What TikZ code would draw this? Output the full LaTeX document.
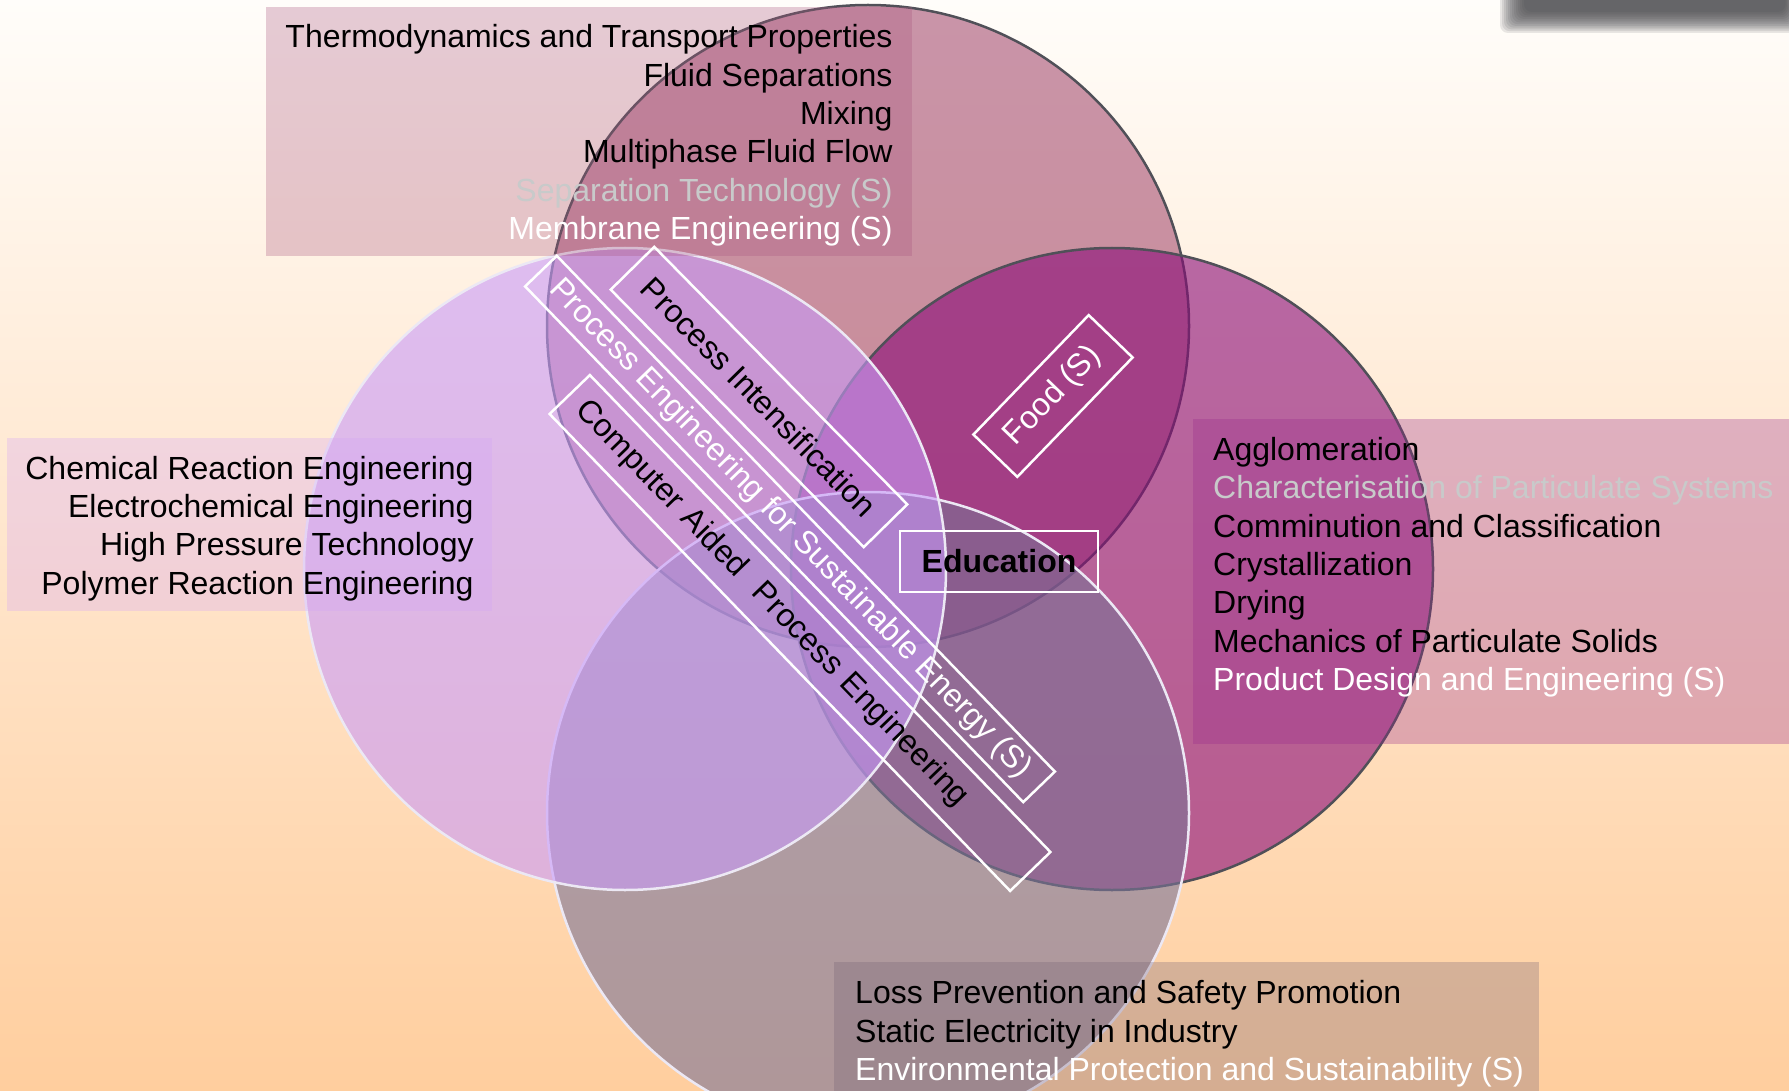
\documentclass[tikz,border=0pt]{standalone}
\usepackage{fontspec}
\setmainfont{Liberation Sans}
\usetikzlibrary{positioning}

\definecolor{bgTop}{RGB}{255,253,250}
\definecolor{bgBottom}{RGB}{255,206,158}
\definecolor{blurGray}{RGB}{70,70,76}
\definecolor{topFill}{RGB}{165,79,115}
\definecolor{rightFill}{RGB}{138,11,120}
\definecolor{bottomFill}{RGB}{122,115,150}
\definecolor{leftFill}{RGB}{200,154,248}
\definecolor{darkRim}{RGB}{80,80,88}
\definecolor{lightRim}{RGB}{236,232,244}
\definecolor{fluidFill}{RGB}{169,87,127}
\definecolor{reactionFill}{RGB}{212,165,247}
\definecolor{particleFill}{RGB}{152,41,140}
\definecolor{safetyFill}{RGB}{118,99,117}
\definecolor{paleText}{RGB}{200,202,202}

\tikzstyle{venn} = [circle, minimum size=642pt, inner sep=0pt, line width=2.5pt, fill opacity=0.6]
\tikzstyle{listbox} = [rectangle, inner sep=0pt, fill opacity=0.3, text opacity=1]
\tikzstyle{listtext} = [inner sep=0pt, font=\fontsize{32}{38.4}\selectfont]
\tikzstyle{tag} = [rectangle, draw=white, line width=2.5pt, inner sep=0pt, font=\fontsize{32}{38.4}\selectfont]

\begin{document}
\begin{tikzpicture}[x=1pt, y=-1pt]
			\shade [top color=bgTop, bottom color=bgBottom] (0,0) rectangle (1789,1091);
			\useasboundingbox (0,0) rectangle (1789,1091);
			% blurred bar in the corner
			\foreach \k in {0,...,12}
				\fill [blurGray, opacity=0.12, rounded corners=8pt] (1500+2*\k,-20) rectangle (1800-1.2*\k,33-1.75*\k);
			
			\node (topCircle) [venn, fill=topFill, draw=darkRim] at (868,326) {};
			\node (rightCircle) [venn, fill=rightFill, draw=darkRim] at (1112,569) {};
			\node (bottomCircle) [venn, fill=bottomFill, draw=lightRim] at (868,813) {};
			\node (leftCircle) [venn, fill=leftFill, draw=lightRim] at (625,569) {};
			
			\node (fluidBox) [listbox, fill=fluidFill, minimum width=646pt, minimum height=249pt] at (589,131.5) {};
			\node (fluidList) [listtext, align=right] at (589,135.5) {Thermodynamics and Transport Properties\\Fluid Separations\\Mixing\\Multiphase Fluid Flow\\{\color{paleText}Separation Technology (S)}\\{\color{white}Membrane Engineering (S)}};
			\node (reactionBox) [listbox, fill=reactionFill, minimum width=485pt, minimum height=173pt] at (249.5,524.5) {};
			\node (reactionList) [listtext, align=right] at (249.5,528.5) {Chemical Reaction Engineering\\Electrochemical Engineering\\High Pressure Technology\\Polymer Reaction Engineering};
			\node (particleBox) [listbox, fill=particleFill, minimum width=620pt, minimum height=325pt, anchor=north west] at (1193,419) {};
			\node (particleList) [listtext, align=left, anchor=north west] at (1213,437) {Agglomeration\\{\color{paleText}Characterisation of Particulate Systems}\\Comminution and Classification\\Crystallization\\Drying\\Mechanics of Particulate Solids\\{\color{white}Product Design and Engineering (S)}};
			\node (safetyBox) [listbox, fill=safetyFill, minimum width=705pt, minimum height=150pt, anchor=north west] at (834,962) {};
			\node (safetyList) [listtext, align=left, anchor=north west] at (855,980.5) {Loss Prevention and Safety Promotion\\Static Electricity in Industry\\{\color{white}Environmental Protection and Sustainability (S)}};
			
			\node (intensTag) [tag, minimum width=361pt, minimum height=61pt, rotate=-45.5] at (759,397) {Process Intensification};
			\node (energyTag) [tag, minimum width=717pt, minimum height=44pt, rotate=-46, text=white] at (790,529) {Process Engineering for Sustainable Energy (S)};
			\node (capeTag) [tag, minimum height=56pt, text width=633pt, inner xsep=15pt, align=left, rotate=-46] at (800,633) {Computer Aided\ \ Process Engineering};
			\node (foodTag) [tag, minimum width=166pt, minimum height=61pt, rotate=46, text=white] at (1053,396) {Food (S)};
			\node (eduTag) [tag, minimum width=198pt, minimum height=61pt, font=\fontsize{32}{38.4}\selectfont\bfseries] at (999,561.5) {Education};
			
		\end{tikzpicture}
\end{document}
